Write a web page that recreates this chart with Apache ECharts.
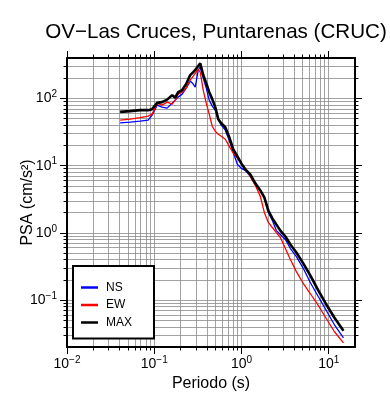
<!DOCTYPE html>
<html>
<head>
<meta charset="utf-8">
<script src="https://cdn.jsdelivr.net/npm/echarts@6/dist/echarts.min.js"></script>
<style>
  html, body { margin: 0; padding: 0; background: #fff; }
  #chart { width: 390px; height: 400px; }
</style>
</head>
<body>
<div id="chart"></div>
<script>
// periods (s) and PSA (cm/s^2)
const periods = [0.0406, 0.0529, 0.0689, 0.0851, 0.0946, 0.108, 0.123, 0.1406, 0.1605, 0.1738,
  0.188, 0.209, 0.2324, 0.2584, 0.2797, 0.2949, 0.3192, 0.3365, 0.3642, 0.3944,
  0.427, 0.4622, 0.5003, 0.5416, 0.5863, 0.6516, 0.7243, 0.805, 0.895, 0.995,
  1.105, 1.262, 1.44, 1.644, 1.827, 2.031, 2.258, 2.509, 2.79, 3.184,
  3.634, 4.258, 5.124, 6.165, 7.614, 9.41, 11.63, 14.75];
const ns = [43.3, 44.4, 45.9, 47.5, 56.4, 79.5, 74.2, 71.7, 85.2, 94.4,
  104.7, 116, 142.6, 181.4, 163.7, 147.6, 265, 293.6, 201, 142.6,
  94.4, 76.8, 67, 49.2, 40, 33.7, 23.9, 15.8, 10.5, 9.13,
  8.52, 6.93, 5.27, 4.28, 3.37, 2.01, 1.53, 1.08, 0.944, 0.795,
  0.584, 0.443, 0.294, 0.181, 0.112, 0.0693, 0.0428, 0.0274];
const ew = [47.5, 49.2, 51.8, 54.5, 58.4, 84.3, 79.5, 88.2, 82.3, 94.4,
  116, 124.3, 142.6, 187.7, 215.4, 236.4, 271, 247, 133.2, 85.2,
  58.4, 38.6, 32.5, 29.4, 27.4, 24.7, 19.4, 15.3, 12.9, 10.8,
  9.13, 6.93, 5.09, 3.49, 2.01, 1.43, 1.2, 1.01, 0.852, 0.584,
  0.4, 0.265, 0.175, 0.124, 0.0823, 0.0527, 0.0337, 0.0231];
const maxv = [63.2, 64.7, 67, 67, 69.3, 86, 88.2, 96.1, 112, 102.9,
  124.3, 133.2, 163.7, 223, 247, 265, 304, 333, 223, 169,
  124, 97.7, 74.2, 49.2, 42.8, 37.3, 26.5, 17.5, 13.8, 10.8,
  8.82, 7.42, 5.45, 4.28, 3.37, 2.15, 1.64, 1.33, 1.08, 0.882,
  0.67, 0.509, 0.348, 0.231, 0.138, 0.0852, 0.0545, 0.0348];

const xRange = [0.01, 20];
const yRange = [0.02, 400];
const xDecades = [0.01, 0.1, 1, 10];
const yDecades = [0.1, 1, 10, 100];

const FONT = '"Liberation Sans", Arial, Helvetica, sans-serif';
const GRID = '#8a8a8a';

function minorValues(lo, hi) {
  const out = [];
  for (let k = Math.floor(Math.log10(lo)); k <= Math.ceil(Math.log10(hi)); k++) {
    for (let m = 2; m <= 9; m++) {
      const v = Number((m * Math.pow(10, k)).toPrecision(6));
      if (v > lo && v < hi) out.push(v);
    }
  }
  return out;
}
const xMinor = minorValues(xRange[0], xRange[1]);
const yMinor = minorValues(yRange[0], yRange[1]);

function pow10(v) {
  const e = Math.round(Math.log10(v));
  return '{b|10}{s|' + (e < 0 ? '\u2212' + (-e) : e) + '}';
}
const rich = {
  b: { fontSize: 14, fontFamily: FONT, color: '#000', lineHeight: 18 },
  s: { fontSize: 10, fontFamily: FONT, color: '#000', verticalAlign: 'top', lineHeight: 12 }
};

function frameAxis(pos, range, decades, extra) {
  return Object.assign({
    type: 'log', logBase: 10, position: pos, min: range[0], max: range[1],
    axisLine: { show: true, onZero: false, lineStyle: { color: '#000', width: 2 } },
    axisTick: { show: true, inside: false, length: 7, customValues: decades, lineStyle: { color: '#000', width: 1 } },
    axisLabel: { show: false },
    splitLine: { show: false }
  }, extra || {});
}
function minorAxis(pos, range, minor) {
  return {
    type: 'log', logBase: 10, position: pos, min: range[0], max: range[1],
    axisLine: { show: false },
    axisTick: { show: true, inside: false, length: 3.5, customValues: minor, lineStyle: { color: '#000', width: 1 } },
    axisLabel: { show: false },
    splitLine: { show: false }
  };
}

const chart = echarts.init(document.getElementById('chart'), null, { renderer: 'canvas' });

const option = {
  animation: false,
  textStyle: { fontFamily: FONT },
  graphic: [{
    type: 'text', x: 216, y: 32,
    style: { text: 'OV\u2212Las Cruces, Puntarenas (CRUC)', fontSize: 20.6, fontFamily: FONT, fill: '#000', align: 'center', verticalAlign: 'middle' }
  }],
  grid: { left: 67, right: 35, top: 58, bottom: 53, containLabel: false, outerBoundsMode: 'none' },
  legend: {
    data: ['NS', 'EW', 'MAX'],
    orient: 'vertical', left: 73, top: 266,
    icon: 'rect', itemWidth: 17, itemHeight: 2.5, itemGap: 5.5,
    padding: [15.5, 22, 10, 8],
    backgroundColor: '#fff', borderColor: '#000', borderWidth: 2, borderRadius: 0,
    textStyle: { fontSize: 12, color: '#000', fontFamily: FONT, padding: [0, 0, 0, 3] }
  },
  xAxis: [
    frameAxis('bottom', xRange, xDecades, {
      axisLabel: { show: true, customValues: xDecades, margin: 8, formatter: pow10, rich: rich },
      splitLine: { show: true, lineStyle: { color: GRID, width: 0.8 } },
      name: 'Periodo (s)', nameLocation: 'middle', nameGap: 26,
      nameTextStyle: { fontSize: 16, color: '#000', fontFamily: FONT }
    }),
    Object.assign(minorAxis('bottom', xRange, xMinor), { splitLine: { show: true, lineStyle: { color: GRID, width: 0.8 } } }),
    frameAxis('top', xRange, xDecades),
    minorAxis('top', xRange, xMinor)
  ],
  yAxis: [
    frameAxis('left', yRange, yDecades, {
      axisLabel: { show: true, customValues: yDecades, margin: 10, formatter: pow10, rich: rich },
      splitLine: { show: true, lineStyle: { color: GRID, width: 0.8 } },
      name: 'PSA (cm/s\u00b2)', nameLocation: 'middle', nameGap: 31, nameMoveOverlap: false,
      nameTextStyle: { fontSize: 16, color: '#000', fontFamily: FONT }
    }),
    Object.assign(minorAxis('left', yRange, yMinor), { splitLine: { show: true, lineStyle: { color: GRID, width: 0.8 } } }),
    frameAxis('right', yRange, yDecades),
    minorAxis('right', yRange, yMinor)
  ],
  series: [
    {
      name: 'NS', type: 'line', xAxisIndex: 0, yAxisIndex: 0,
      data: periods.map((t, i) => [t, ns[i]]),
      symbol: 'none', showSymbol: false, z: 3,
      lineStyle: { color: '#0000ff', width: 1.3 }, itemStyle: { color: '#0000ff' }
    },
    {
      name: 'EW', type: 'line', xAxisIndex: 0, yAxisIndex: 0,
      data: periods.map((t, i) => [t, ew[i]]),
      symbol: 'none', showSymbol: false, z: 3,
      lineStyle: { color: '#ff0000', width: 1.3 }, itemStyle: { color: '#ff0000' }
    },
    {
      name: 'MAX', type: 'line', xAxisIndex: 0, yAxisIndex: 0,
      data: periods.map((t, i) => [t, maxv[i]]),
      symbol: 'none', showSymbol: false, z: 4,
      lineStyle: { color: '#000', width: 2.6 }, itemStyle: { color: '#000' }
    }
  ]
};

chart.setOption(option);
</script>
</body>
</html>
